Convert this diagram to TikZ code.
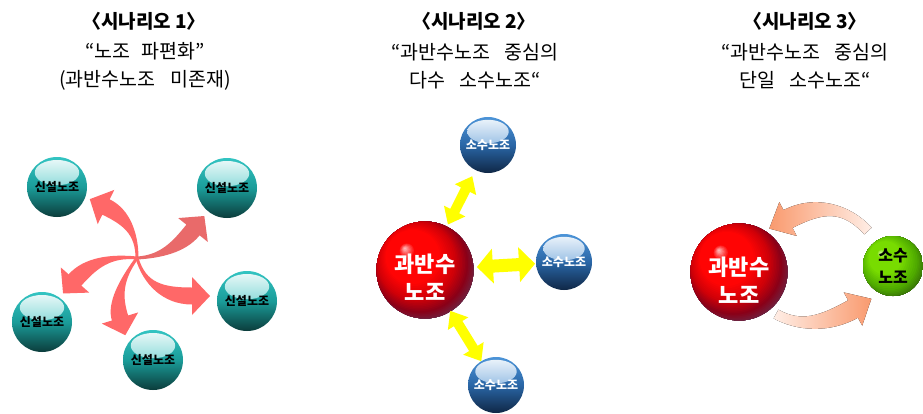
\documentclass[tikz,border=0pt]{standalone}
\usepackage{fontspec}
\setmainfont[WordSpace=2.4]{Noto Sans CJK KR}
\newfontfamily\krtitle{Noto Sans CJK KR}
\usetikzlibrary{calc}
\definecolor{arrowred}{HTML}{FF6868}
\definecolor{arrowredD}{HTML}{E96A6A}
\definecolor{tealT}{HTML}{33C4C2}
\definecolor{tealM}{HTML}{1A9C99}
\definecolor{tealB}{HTML}{0B3C3B}
\definecolor{bluT}{HTML}{4C94D8}
\definecolor{bluM}{HTML}{2A66A6}
\definecolor{bluB}{HTML}{0F2746}
\definecolor{ylw}{HTML}{FFFF00}
\definecolor{peach}{HTML}{F99A6E}
\definecolor{peachL}{HTML}{FFEEE6}
\definecolor{rHi}{HTML}{FFD0D0}
\definecolor{rA}{HTML}{FF0404}
\definecolor{rB}{HTML}{D00008}
\definecolor{rC}{HTML}{8A0018}
\definecolor{rD}{HTML}{643050}
\definecolor{gHi}{HTML}{D8FFA0}
\definecolor{gA}{HTML}{78DC00}
\definecolor{gB}{HTML}{4FAA00}
\definecolor{gC}{HTML}{30600A}
% manual radial gradient: #1 centre, #2 sphere radius, #3 #4 highlight offset (of 50), #5 stop list a/b/colour a/colour b
\newcommand\radialball[5]{%
  \foreach \ra/\rb/\ca/\cb in {#5}{%
    \foreach \k in {0,...,7}{%
      \pgfmathsetmacro\rs{\ra-(\ra-\rb)*\k/8}%
      \pgfmathtruncatemacro\rp{100*\k/8}%
      \fill[\cb!\rp!\ca] ($(#1)+({#3*(1-\rs/50)*1.4*#2/50},{#4*(1-\rs/50)*1.4*#2/50})$) circle ({\rs/50*1.4*#2});
    }}}
% tapered curved arrow: #1 opts, #2 start, #3 control, #4 head base, #5 start half width, #6 base half width, #7 head half width, #8 head length
\newcommand\taperarrow[8]{%
  \fill[#1] let \p1=($(#4)-(#3)$), \p2=($(#3)-(#2)$), \n1={atan2(\y1,\x1)}, \n2={atan2(\y2,\x2)} in
   ($(#2)+(\n2+90:#5)$) .. controls ($(#2)!0.667!(#3)+(\n2+90:#5)$) and ($(#4)!0.667!(#3)+(\n1+90:#6)$) .. ($(#4)+(\n1+90:#6)$)
   -- ($(#4)+(\n1+90:#7)$) -- ($(#4)+(\n1:#8)$) -- ($(#4)+(\n1-90:#7)$) -- ($(#4)+(\n1-90:#6)$)
   .. controls ($(#4)!0.667!(#3)+(\n1-90:#6)$) and ($(#2)!0.667!(#3)+(\n2-90:#5)$) .. ($(#2)+(\n2-90:#5)$) -- cycle;}
% straight double block arrow: #1 tip A, #2 tip B, #3 shaft half, #4 head half, #5 head length
\newcommand\dblarrow[5]{%
  \fill[ylw] let \p1=($(#2)-(#1)$), \n1={atan2(\y1,\x1)} in
   (#1) -- ($(#1)+(\n1:#5)+(\n1+90:#4)$) -- ($(#1)+(\n1:#5)+(\n1+90:#3)$)
   -- ($(#2)+(\n1+180:#5)+(\n1+90:#3)$) -- ($(#2)+(\n1+180:#5)+(\n1+90:#4)$) -- (#2)
   -- ($(#2)+(\n1+180:#5)+(\n1-90:#4)$) -- ($(#2)+(\n1+180:#5)+(\n1-90:#3)$)
   -- ($(#1)+(\n1:#5)+(\n1-90:#3)$) -- ($(#1)+(\n1:#5)+(\n1-90:#4)$) -- cycle;}
\newcommand\wsp{\hspace{0.75em}}
\tikzset{
  titlefont/.style={font=\krtitle\fontsize{19}{24}\selectfont\bfseries, inner sep=0pt},
  subfont/.style={font=\fontsize{19.5}{28}\selectfont, align=center, inner sep=0pt},
  glassball/.style n args={4}{circle, inner sep=0pt, minimum size=#1pt,
    top color=#2, bottom color=#4, middle color=#3,
    path picture={\shade[top color=white!92!#2, bottom color=#2!80!#3]
      ([yshift={0.24*#1}]path picture bounding box.center) ellipse ({0.37*#1} and {0.21*#1});}},
  tealsph/.style={glassball={60}{tealT}{tealM}{tealB}, font=\krtitle\fontsize{12}{14}\selectfont\bfseries, text=black},
  bluesph/.style={glassball={56}{bluT}{bluM}{bluB}, font=\krtitle\fontsize{12}{14}\selectfont\bfseries, text=white},
  redsph/.style={circle, inner sep=0pt, minimum size=97pt,
    path picture={\radialball{path picture bounding box.center}{48.5}{-15}{16}{50/43/rD/rD, 43/36/rD/rC, 36/29/rC/rB, 29/20/rB/rA, 20/6/rA/rA, 6/0/rA/rHi}},
    font=\krtitle\fontsize{22}{28}\selectfont\bfseries, text=white, align=center},
  greensph/.style={circle, inner sep=0pt, minimum size=60pt,
    path picture={\radialball{path picture bounding box.center}{30}{-15}{16}{50/44/gC/gC, 44/34/gC/gB, 34/20/gB/gA, 20/6/gA/gA, 6/0/gA/gHi}},
    font=\krtitle\fontsize{16}{22}\selectfont\bfseries, text=black, align=center},
}
\begin{document}
\begin{tikzpicture}[x=1pt,y=1pt]
\fill[white] (0,0) rectangle (923,-413);
\useasboundingbox (0,0) rectangle (923,-413);
% titles
\node[titlefont] (t1) at (144,-21) {〈시나리오 1〉};
\node[subfont] (s1) at (145,-66) {“노조 파편화”\\(과반수노조\wsp 미존재)};
\node[titlefont] (t2) at (474,-21) {〈시나리오 2〉};
\node[subfont] (s2) at (475,-66) {“과반수노조\wsp 중심의\\다수\wsp 소수노조“};
\node[titlefont] (t3) at (805,-21) {〈시나리오 3〉};
\node[subfont] (s3) at (805,-66) {“과반수노조\wsp 중심의\\단일\wsp 소수노조“};
% scenario 1
\coordinate (c1) at (137,-258);
\coordinate (pa) at (106,-207);
\coordinate (pb) at (193,-230);
\coordinate (pc) at (192,-296);
\coordinate (pd) at (120,-318);
\coordinate (pe) at (75,-280);
\taperarrow{arrowred}{c1}{137,-222}{pa}{1.5}{8.5}{19}{18}
\taperarrow{arrowredD}{c1}{172,-256}{pb}{1.5}{8.5}{19}{18}
\taperarrow{arrowred}{c1}{148,-296}{pc}{1.5}{8.5}{19}{18}
\taperarrow{arrowred}{c1}{112,-292}{pd}{1.5}{8.5}{19}{18}
\taperarrow{arrowred}{c1}{98,-254}{pe}{1.5}{8.5}{19}{18}
\node[tealsph] (n1) at (57,-187) {신설노조};
\node[tealsph] (n2) at (227,-188) {신설노조};
\node[tealsph] (n3) at (247,-301) {신설노조};
\node[tealsph] (n4) at (42,-322) {신설노조};
\node[tealsph] (n5) at (153,-360) {신설노조};
% scenario 2
\node[redsph] (r2) at (425,-270) {\rule{0pt}{33pt}과반수\\노조};
\node[bluesph] (b1) at (488,-145) {소수노조};
\node[bluesph] (b2) at (564,-262) {소수노조};
\node[bluesph] (b3) at (496,-385) {소수노조};
\coordinate (y1a) at ($(r2.center)!51pt!(b1.center)$);
\coordinate (y1b) at ($(b1.center)!35pt!(r2.center)$);
\coordinate (y2a) at ($(r2.center)!52pt!(b2.center)$);
\coordinate (y2b) at ($(b2.center)!29pt!(r2.center)$);
\coordinate (y3a) at ($(r2.center)!48pt!(b3.center)$);
\coordinate (y3b) at ($(b3.center)!28pt!(r2.center)$);
\dblarrow{y1a}{y1b}{5}{12}{15}
\dblarrow{y2a}{y2b}{6.5}{17.5}{16}
\dblarrow{y3a}{y3b}{5}{12}{15}
% scenario 3
\node[redsph] (r3) at (739,-272) {\rule{0pt}{35pt}과반수\\노조};
\node[greensph] (g3) at (893,-266) {소수\\노조};
\coordinate (u0) at (868,-231);
\coordinate (u1) at (788,-219);
\coordinate (l0) at (776,-314);
\coordinate (l1) at (853,-309);
\taperarrow{left color=peach, right color=peachL}{u0}{835,-195}{u1}{5}{10}{19}{21}
\taperarrow{left color=peachL, right color=peach}{l0}{810,-333}{l1}{5}{10}{19}{21}
\end{tikzpicture}
\end{document}
